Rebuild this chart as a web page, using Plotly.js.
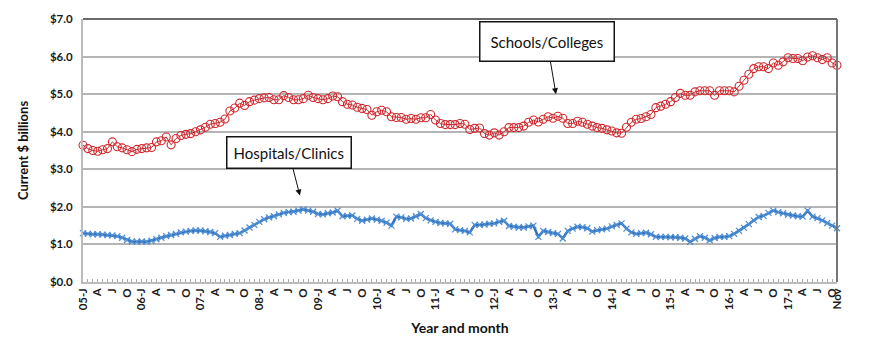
<!DOCTYPE html>
<html>
<head>
<meta charset="utf-8">
<script src="https://cdn.plot.ly/plotly-3.0.1.min.js"></script>
<style>html,body{margin:0;padding:0;background:#fff;}#chart{width:870px;height:346px;}</style>
</head>
<body>
<div id="chart"></div>
<script>
// Monthly, Jan 2005 .. Nov 2017 (155 months)
const schools = [
  3.64, 3.55, 3.50, 3.48, 3.52, 3.55, 3.73, 3.60, 3.57, 3.52, 3.47, 3.53,
  3.55, 3.57, 3.58, 3.73, 3.76, 3.86, 3.65, 3.82, 3.90, 3.93, 3.95, 4.00,
  4.05, 4.12, 4.20, 4.22, 4.25, 4.34, 4.55, 4.63, 4.76, 4.70, 4.80, 4.84,
  4.88, 4.90, 4.91, 4.85, 4.85, 4.96, 4.91, 4.85, 4.85, 4.88, 4.97, 4.91,
  4.88, 4.85, 4.88, 4.95, 4.93, 4.80, 4.73, 4.71, 4.65, 4.62, 4.59, 4.44,
  4.53, 4.57, 4.53, 4.40, 4.38, 4.38, 4.33, 4.35, 4.33, 4.37, 4.37, 4.46,
  4.31, 4.22, 4.19, 4.19, 4.19, 4.22, 4.20, 4.06, 4.09, 4.10, 3.95, 3.91,
  3.97, 3.91, 4.00, 4.11, 4.11, 4.11, 4.15, 4.25, 4.31, 4.26, 4.33, 4.40,
  4.36, 4.41, 4.36, 4.22, 4.22, 4.28, 4.25, 4.20, 4.15, 4.11, 4.09, 4.05,
  4.02, 3.97, 3.96, 4.12, 4.25, 4.33, 4.35, 4.40, 4.46, 4.64, 4.68, 4.73,
  4.80, 4.91, 5.02, 4.97, 4.97, 5.06, 5.09, 5.09, 5.09, 4.97, 5.09, 5.09,
  5.09, 5.06, 5.21, 5.37, 5.53, 5.68, 5.73, 5.73, 5.68, 5.83, 5.77, 5.86,
  5.97, 5.95, 5.95, 5.89, 5.99, 6.02, 5.97, 5.92, 5.97, 5.83, 5.77
];
const hospitals = [
  1.30, 1.28, 1.27, 1.27, 1.26, 1.25, 1.24, 1.22, 1.18, 1.12, 1.08, 1.07,
  1.08, 1.07, 1.10, 1.14, 1.18, 1.22, 1.25, 1.28, 1.32, 1.34, 1.36, 1.37,
  1.37, 1.35, 1.33, 1.30, 1.20, 1.23, 1.25, 1.28, 1.30, 1.37, 1.45, 1.52,
  1.60, 1.67, 1.72, 1.75, 1.80, 1.84, 1.86, 1.87, 1.90, 1.93, 1.90, 1.87,
  1.81, 1.80, 1.83, 1.85, 1.90, 1.75, 1.76, 1.77, 1.68, 1.63, 1.66, 1.69,
  1.66, 1.63, 1.58, 1.50, 1.74, 1.72, 1.68, 1.69, 1.75, 1.81, 1.70, 1.64,
  1.60, 1.57, 1.56, 1.55, 1.40, 1.38, 1.36, 1.32, 1.52, 1.52, 1.53, 1.55,
  1.56, 1.60, 1.63, 1.49, 1.47, 1.45, 1.45, 1.48, 1.50, 1.20, 1.36, 1.33,
  1.30, 1.28, 1.16, 1.36, 1.42, 1.47, 1.46, 1.43, 1.34, 1.38, 1.40, 1.42,
  1.48, 1.52, 1.56, 1.42, 1.32, 1.28, 1.30, 1.31, 1.27, 1.20, 1.20, 1.20,
  1.19, 1.19, 1.18, 1.16, 1.07, 1.15, 1.22, 1.18, 1.11, 1.17, 1.20, 1.20,
  1.22, 1.28, 1.36, 1.44, 1.54, 1.64, 1.73, 1.76, 1.84, 1.90, 1.86, 1.83,
  1.79, 1.77, 1.75, 1.74, 1.90, 1.74, 1.70, 1.64, 1.57, 1.50, 1.43
];
// tick label for every third month, plus the last month
const monthLetters = ['J', 'A', 'J', 'O'];
const startYear = 5;
const lastLabel = 'Nov';

const n = schools.length;
const xIdx = [];
for (let i = 0; i < n; i++) xIdx.push(i);
const tickVals = [], tickText = [];
for (let i = 0; i < n; i++) {
  tickVals.push(i);
  let t = '';
  if (i === n - 1) t = lastLabel;
  else if (i % 3 === 0) {
    const q = (i % 12) / 3;
    const yr = startYear + Math.floor(i / 12);
    t = q === 0 ? String(yr).padStart(2, '0') + '-J' : monthLetters[q];
  }
  tickText.push(t);
}

const FONT = 'Lato, "Open Sans", sans-serif';

const traces = [
  {
    x: xIdx, y: hospitals, type: 'scatter', mode: 'lines+markers', name: 'Hospitals/Clinics',
    line: {color: '#2f6fb8', width: 2.5},
    marker: {symbol: 'x-thin-open', size: 6, color: '#4f8fd6', line: {color: '#4f8fd6', width: 1.3}},
    cliponaxis: false, hoverinfo: 'skip'
  },
  {
    x: xIdx, y: schools, type: 'scatter', mode: 'lines+markers', name: 'Schools/Colleges',
    line: {color: '#c8282d', width: 1},
    marker: {symbol: 'circle-open', size: 8, color: '#d0282d', line: {color: '#d0282d', width: 1.1}},
    cliponaxis: false, hoverinfo: 'skip'
  }
];

const layout = {
  width: 870, height: 346,
  margin: {l: 83, r: 33, t: 19, b: 64},
  paper_bgcolor: '#ffffff', plot_bgcolor: '#ffffff',
  showlegend: false,
  font: {family: FONT, color: '#1a1a1a'},
  xaxis: {
    range: [0, n - 1],
    tickmode: 'array', tickvals: tickVals, ticktext: tickText,
    tickangle: -90,
    ticks: 'inside', ticklen: 3, tickcolor: '#aaaaaa', tickwidth: 1,
    showgrid: false, zeroline: false,
    showline: true, linecolor: '#bbbbbb', linewidth: 1.5,
    tickfont: {family: FONT, size: 11.5, weight: 700, color: '#1a1a1a'},
    title: {text: 'Year and month', font: {family: FONT, size: 14, weight: 700, color: '#111'}, standoff: 14},
    automargin: false, fixedrange: true
  },
  yaxis: {
    range: [0, 7], dtick: 1, tick0: 0,
    tickprefix: '$', tickformat: '.1f',
    showgrid: true, gridcolor: '#b5b5b5', gridwidth: 1.5,
    zeroline: false,
    showline: true, linecolor: '#bbbbbb', linewidth: 2,
    ticks: '', ticklabelstandoff: 6,
    tickfont: {family: FONT, size: 11.5, weight: 700, color: '#1a1a1a'},
    title: {text: 'Current $ billions', font: {family: FONT, size: 13, weight: 700, color: '#111'}, standoff: 18},
    automargin: false, fixedrange: true
  },
  shapes: [
    {type: 'line', xref: 'paper', yref: 'paper', x0: 0, x1: 1, y0: 1, y1: 1, line: {color: '#6a6a6a', width: 2}},
    {type: 'line', xref: 'paper', yref: 'paper', x0: 1, x1: 1, y0: 0, y1: 1, line: {color: '#777777', width: 2}}
  ],
  annotations: [
    {
      x: 44.3, y: 2.3, xref: 'x', yref: 'y',
      text: 'Hospitals/Clinics', showarrow: true, arrowhead: 2, arrowsize: 1.2, arrowwidth: 1, arrowcolor: '#111',
      ax: -11, ay: -43,
      bgcolor: 'rgb(255,255,255)', bordercolor: 'rgb(20,20,20)', borderwidth: 1.5, borderpad: 6,
      font: {family: FONT, size: 15, color: '#111'}
    },
    {
      x: 96.6, y: 5.0, xref: 'x', yref: 'y',
      text: 'Schools/Colleges', showarrow: true, arrowhead: 2, arrowsize: 1.2, arrowwidth: 1, arrowcolor: '#111',
      ax: -9, ay: -53,
      bgcolor: 'rgb(255,255,255)', bordercolor: 'rgb(20,20,20)', borderwidth: 1.5, borderpad: 10,
      font: {family: FONT, size: 15, color: '#111'}
    }
  ]
};

Plotly.newPlot('chart', traces, layout, {displayModeBar: false});
</script>
</body>
</html>
